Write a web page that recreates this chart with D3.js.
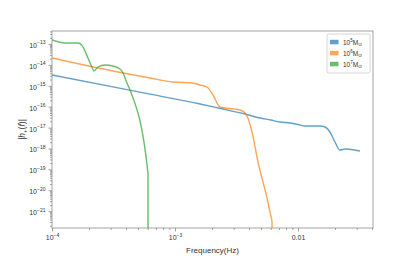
<!DOCTYPE html>
<html>
<head>
<meta charset="utf-8">
<script src="https://cdn.jsdelivr.net/npm/d3@7"></script>
<style>
  body { margin: 0; background: #fff; }
  svg { display: block; font-family: "Liberation Sans", Arial, sans-serif; }
</style>
</head>
<body>
<div id="chart"></div>
<script>
// ----- Data -----
const freq5 = [1.00e-4, 6.26e-4, 1.60e-3, 2.30e-3, 3.71e-3, 4.91e-3, 6.00e-3, 7.14e-3, 8.61e-3,
  1.00e-2, 1.14e-2, 1.51e-2, 1.66e-2, 1.82e-2, 2.00e-2, 2.19e-2, 2.41e-2, 2.90e-2, 3.19e-2];
const amp5 = [3.29e-15, 3.98e-16, 1.35e-16, 8.4e-17, 4.48e-17, 2.88e-17, 2.31e-17, 1.85e-17, 1.66e-17,
  1.41e-17, 1.19e-17, 1.19e-17, 1.07e-17, 6.16e-18, 2.05e-18, 8.48e-19, 9.46e-19, 8.48e-19, 7.59e-19];

const freq6 = [1.00e-4, 3.78e-4, 6.26e-4, 9.64e-4, 1.40e-3, 1.60e-3, 1.82e-3, 2.04e-3, 2.32e-3,
  2.55e-3, 3.38e-3, 3.71e-3, 3.92e-3, 4.23e-3, 4.73e-3, 5.60e-3, 5.92e-3, 6.15e-3, 6.17e-3];
const amp6 = [2.14e-14, 4.09e-15, 2.36e-15, 1.52e-15, 1.36e-15, 1.09e-15, 8.77e-16, 3.63e-16, 9.68e-17,
  8.67e-17, 6.96e-17, 5.00e-17, 2.88e-17, 6.16e-18, 2.26e-19, 4.28e-21, 9.16e-22, 3.04e-22, 1e-23];

const freq7 = [1.00e-4, 1.28e-4, 1.63e-4, 1.79e-4, 1.96e-4, 2.11e-4, 2.19e-4, 2.37e-4, 2.70e-4,
  3.13e-4, 3.57e-4, 3.78e-4, 4.07e-4, 4.31e-4, 6.03e-4, 6.04e-4];
const amp7 = [1.55e-13, 1.12e-13, 1.12e-13, 7.18e-14, 2.14e-14, 7.94e-15, 5.11e-15, 7.94e-15, 9.89e-15,
  8.85e-15, 6.37e-15, 4.09e-15, 1.36e-15, 6.30e-16, 6.73e-20, 1e-23];

const seriesLabels = ["5", "6", "7"];   // 10^k solar masses
const seriesColors = ["#1f77b4", "#ff7f0e", "#2ca02c"];

const xMajor = [1e-4, 1e-3, 1e-2];
const xMajorLabels = [["10", "\u22124"], ["10", "\u22123"], ["0.01", ""]];
const yExponents = [-13, -14, -15, -16, -17, -18, -19, -20, -21];

// ----- Layout -----
const W = 415, H = 260;
const MARGIN = { top: 31, right: 42, bottom: 32, left: 52 };
const width = W - MARGIN.left - MARGIN.right;
const height = H - MARGIN.top - MARGIN.bottom;
const AXIS_COLOR = "#8c8c8c";
const TEXT_COLOR = "#333";

const svg = d3.select("#chart").append("svg")
  .attr("width", W)
  .attr("height", H);

const g = svg.append("g")
  .attr("transform", `translate(${MARGIN.left},${MARGIN.top})`);

// ----- Scales -----
const x = d3.scaleLog()
  .domain([1e-4, Math.pow(10, -1.39)])
  .range([0, width]);

const y = d3.scaleLog()
  .domain([Math.pow(10, -21.804), Math.pow(10, -12.378)])
  .range([height, 0]);

// minor ticks 2..9 per decade, inside the domains
function minorTicks(scale, lo, hi) {
  const out = [];
  const [d0, d1] = scale.domain().slice().sort((a, b) => a - b);
  for (let e = lo; e <= hi; e++) {
    for (let k = 2; k <= 9; k++) {
      const v = k * Math.pow(10, e);
      if (v >= d0 && v <= d1) out.push(v);
    }
  }
  return out;
}

// ----- Axes -----
const xMinor = g.append("g")
  .attr("transform", `translate(0,${height})`)
  .call(d3.axisBottom(x).tickValues(minorTicks(x, -4, -2)).tickSize(2).tickFormat(""));

const xAxis = g.append("g")
  .attr("transform", `translate(0,${height})`)
  .call(d3.axisBottom(x).tickValues(xMajor).tickSize(3.5).tickPadding(4).tickFormat(""));

xAxis.selectAll(".tick").each(function (d, i) {
  const t = d3.select(this).select("text")
    .attr("fill", TEXT_COLOR)
    .attr("font-size", 7)
    .attr("dy", "0.71em");
  const [base, sup] = xMajorLabels[i];
  t.append("tspan").text(base);
  if (sup) {
    t.append("tspan").attr("font-size", 5).attr("dy", -3).text(sup);
  }
});

const yMinor = g.append("g")
  .call(d3.axisLeft(y).tickValues(minorTicks(y, -22, -13)).tickSize(2).tickFormat(""));

const yAxis = g.append("g")
  .call(d3.axisLeft(y).tickValues(yExponents.map(e => Math.pow(10, e))).tickSize(3.5).tickPadding(3).tickFormat(""));

yAxis.selectAll(".tick").each(function (d, i) {
  const t = d3.select(this).select("text")
    .attr("fill", TEXT_COLOR)
    .attr("font-size", 7)
    .attr("dy", "0.5em");
  t.append("tspan").text("10");
  t.append("tspan").attr("font-size", 5).attr("dy", -3.5).text("\u2212" + Math.abs(yExponents[i]));
});

// hide d3's domain paths, draw a full frame instead
svg.selectAll(".domain").remove();
svg.selectAll(".tick line").attr("stroke", AXIS_COLOR).attr("stroke-width", 0.8);

g.append("rect")
  .attr("width", width)
  .attr("height", height)
  .attr("fill", "none")
  .attr("stroke", AXIS_COLOR)
  .attr("stroke-width", 0.8);

// ----- Lines -----
svg.append("defs").append("clipPath").attr("id", "plot-clip")
  .append("rect").attr("width", width).attr("height", height);

const line = d3.line()
  .x(d => x(d[0]))
  .y(d => y(d[1]))
  .curve(d3.curveMonotoneX);

const series = [
  d3.zip(freq5, amp5),
  d3.zip(freq6, amp6),
  d3.zip(freq7, amp7)
];

g.append("g")
  .attr("clip-path", "url(#plot-clip)")
  .selectAll("path")
  .data(series)
  .join("path")
  .attr("fill", "none")
  .attr("stroke", (d, i) => seriesColors[i])
  .attr("stroke-opacity", 0.7)
  .attr("stroke-width", 1.4)
  .attr("d", line);

// ----- Legend -----
const legend = svg.append("g").attr("transform", "translate(327,34)");
legend.append("rect")
  .attr("width", 43)
  .attr("height", 39)
  .attr("fill", "#fff")
  .attr("stroke", "#ccc")
  .attr("stroke-width", 0.8)
  .attr("rx", 1.5);

seriesLabels.forEach((lab, i) => {
  const row = legend.append("g").attr("transform", `translate(0,${8 + i * 11})`);
  row.append("rect")
    .attr("x", 3)
    .attr("y", -2.2)
    .attr("width", 8.5)
    .attr("height", 4.5)
    .attr("fill", seriesColors[i])
    .attr("fill-opacity", 0.7);
  const t = row.append("text")
    .attr("x", 16)
    .attr("y", 2.5)
    .attr("fill", TEXT_COLOR)
    .attr("font-size", 6.5);
  t.append("tspan").text("10");
  t.append("tspan").attr("font-size", 4.5).attr("dy", -3).text(lab);
  t.append("tspan").attr("dy", 3).text("M");
  t.append("tspan").attr("font-size", 4.5).attr("dy", 1.5).text("\u2299");
});

// ----- Axis labels -----
svg.append("text")
  .attr("x", MARGIN.left + width / 2)
  .attr("y", H - 7)
  .attr("text-anchor", "middle")
  .attr("fill", TEXT_COLOR)
  .attr("font-size", 8)
  .text("Frequency(Hz)");

const yl = svg.append("text")
  .attr("transform", `translate(25,${MARGIN.top + height / 2}) rotate(-90)`)
  .attr("text-anchor", "middle")
  .attr("fill", TEXT_COLOR)
  .attr("font-size", 8.5);
yl.append("tspan").text("|");
yl.append("tspan").attr("font-style", "italic").text("h");
yl.append("tspan").attr("font-size", 6).attr("dy", 2).text("+");
yl.append("tspan").attr("dy", -2).text("(");
yl.append("tspan").attr("font-style", "italic").text("f");
yl.append("tspan").text(")|");
</script>
</body>
</html>
